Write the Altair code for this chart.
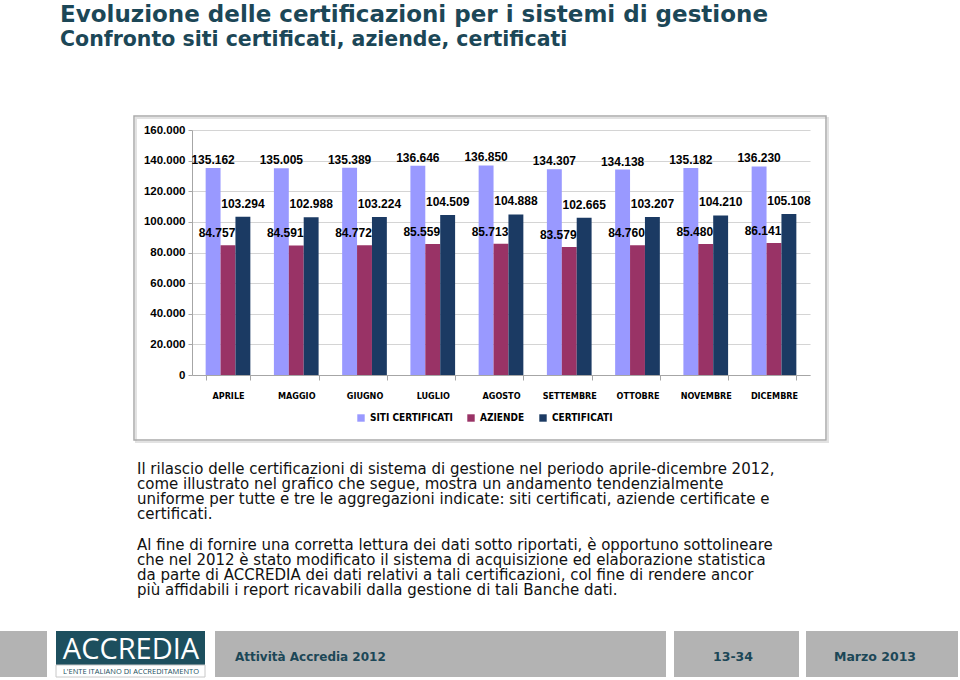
import altair as alt
import pandas as pd

# ---------------- data ----------------
months = ["APRILE", "MAGGIO", "GIUGNO", "LUGLIO", "AGOSTO",
          "SETTEMBRE", "OTTOBRE", "NOVEMBRE", "DICEMBRE"]
series_names = ["SITI CERTIFICATI", "AZIENDE", "CERTIFICATI"]
siti = [135162, 135005, 135389, 136646, 136850, 134307, 134138, 135182, 136230]
aziende = [84757, 84591, 84772, 85559, 85713, 83579, 84760, 85480, 86141]
certificati = [103294, 102988, 103224, 104509, 104888, 102665, 103207, 104210, 105108]
y_ticks = [0, 20000, 40000, 60000, 80000, 100000, 120000, 140000, 160000]

title_text = "Evoluzione delle certificazioni per i sistemi di gestione"
subtitle_text = "Confronto siti certificati, aziende, certificati"
para1 = [
    "Il rilascio delle certificazioni di sistema di gestione nel periodo aprile-dicembre 2012,",
    "come illustrato nel grafico che segue, mostra un andamento tendenzialmente",
    "uniforme per tutte e tre le aggregazioni indicate: siti certificati, aziende certificate e",
    "certificati.",
]
para2 = [
    "Al fine di fornire una corretta lettura dei dati sotto riportati, è opportuno sottolineare",
    "che nel 2012 è stato modificato il sistema di acquisizione ed elaborazione statistica",
    "da parte di ACCREDIA dei dati relativi a tali certificazioni, col fine di rendere ancor",
    "più affidabili i report ricavabili dalla gestione di tali Banche dati.",
]
footer_left = "Attività Accredia 2012"
footer_mid = "13-34"
footer_right = "Marzo 2013"
logo_main = "ACCREDIA"
logo_sub = "L'ENTE ITALIANO DI ACCREDITAMENTO"

rows = []
for i, m in enumerate(months):
    rows.append({"mese": m, "serie": series_names[0], "valore": siti[i]})
    rows.append({"mese": m, "serie": series_names[1], "valore": aziende[i]})
    rows.append({"mese": m, "serie": series_names[2], "valore": certificati[i]})
df = pd.DataFrame(rows)

colors = ["#9999FF", "#993366", "#1B3A63"]
TEAL = "#1C4757"
NARROW = "Liberation Sans Narrow, Arial Narrow, DejaVu Sans Condensed, sans-serif"
SANS = "Liberation Sans, Arial, sans-serif"
VERD = "DejaVu Sans, Verdana, sans-serif"

base = alt.Chart(df).transform_calculate(
    etichetta="replace(format(datum.valore, ','), ',', '.')"
)

x_enc = alt.X(
    "mese:N", sort=months, title=None,
    scale=alt.Scale(paddingInner=0.345, paddingOuter=0.2),
    axis=alt.Axis(labelAngle=0, labelFont=NARROW, labelFontWeight="bold",
                  labelFontSize=9, labelColor="#000000", labelPadding=11,
                  labelOverlap=False,
                  domainColor="#A6A6A6", tickColor="#A6A6A6", tickBand="extent",
                  tickSize=5, grid=False),
)
y_enc = alt.Y(
    "valore:Q", title=None,
    scale=alt.Scale(domain=[0, 160000], nice=False),
    axis=alt.Axis(values=y_ticks, labelOverlap=False,
                  labelExpr="replace(format(datum.value, ','), ',', '.')",
                  labelFont=SANS, labelFontWeight="bold", labelFontSize=11.5,
                  labelColor="#000000", labelPadding=3,
                  domainColor="#A6A6A6", tickColor="#A6A6A6", tickSize=4,
                  gridColor="#D4D4D4", gridWidth=1.2),
)
xoff = alt.XOffset("serie:N", sort=series_names,
                   scale=alt.Scale(paddingInner=0, paddingOuter=0))

bars = base.mark_bar().encode(
    x=x_enc, y=y_enc, xOffset=xoff,
    color=alt.Color(
        "serie:N", sort=series_names,
        scale=alt.Scale(domain=series_names, range=colors),
        legend=alt.Legend(
            title=None, orient="none", direction="horizontal",
            legendX=164, legendY=283, symbolType="square", symbolSize=55,
            symbolStrokeWidth=0, labelFont=NARROW, labelFontWeight="bold",
            labelFontSize=10, labelColor="#000000", columnPadding=13,
            labelOffset=4,
        ),
    ),
)


def lab(name, dy, dx=0):
    return base.transform_filter(alt.datum.serie == name).mark_text(
        font=SANS, fontWeight="bold", fontSize=12, color="#000000",
        baseline="middle", dy=dy, dx=dx,
    ).encode(x=x_enc, y=y_enc, xOffset=xoff, text="etichetta:N")


lab_siti = lab(series_names[0], -8)
lab_az = lab(series_names[1], -12, -11)
lab_cert = lab(series_names[2], -13)

one = pd.DataFrame({"k": [0]})


def rect(x1, x2, y1, y2, fill, stroke=None, sw=0):
    kw = dict(fill=fill, strokeWidth=sw)
    if stroke:
        kw["stroke"] = stroke
    return alt.Chart(one).mark_rect(**kw).encode(
        x=alt.value(x1), x2=alt.value(x2), y=alt.value(y1), y2=alt.value(y2))


def txt(value, x, y, size, color="#000000", weight="normal", font=VERD,
        align="left"):
    d = pd.DataFrame({"t": [value]})
    return alt.Chart(d).mark_text(
        font=font, fontSize=size, color=color, fontWeight=weight,
        align=align, baseline="alphabetic",
    ).encode(x=alt.value(x), y=alt.value(y), text="t:N")


# chart frame (no fill so gridlines stay visible)
frame_shadow = rect(-56, 636, -12, 312, "transparent", "#E2E2E2", 2)
frame = rect(-58, 634, -14, 310, "transparent", "#ABABAB", 1.5)

texts = [
    txt(title_text, -132, -108, 23, TEAL, "bold"),
    txt(subtitle_text, -132, -84, 20.5, TEAL, "bold"),
]
for i, line in enumerate(para1):
    texts.append(txt(line, -55, 344 + 15 * i, 15, "#111111"))
for i, line in enumerate(para2):
    texts.append(txt(line, -55, 420 + 15 * i, 15, "#111111"))

FOOT_GRAY = "#B3B3B3"
footer = [
    rect(-192, -145, 501, 547, FOOT_GRAY),
    rect(23, 474, 501, 547, FOOT_GRAY),
    rect(482, 607, 501, 547, FOOT_GRAY),
    rect(614, 766, 501, 547, FOOT_GRAY),
    rect(-136, 13, 501, 535, "#1D4F5E"),
    rect(-136, 13, 535, 547, "#FFFFFF", "#C8C8C8", 1),
    txt(logo_main, -61, 529, 29, "#FFFFFF", "normal", "Open Sans, Lato, sans-serif", "center"),
    txt(logo_sub, -61, 544, 7.5, "#1D4F5E", "normal", "Open Sans, sans-serif", "center"),
    txt(footer_left, 43, 531, 12, TEAL, "bold", VERD),
    txt(footer_mid, 541, 531, 12.5, TEAL, "bold", VERD, "center"),
    txt(footer_right, 683, 531, 12.5, TEAL, "bold", VERD, "center"),
]

chart = alt.layer(
    frame_shadow, frame, bars, lab_siti, lab_az, lab_cert, *texts, *footer
).properties(
    width=618, height=245,
    padding={"left": 192, "top": 130, "right": 150, "bottom": 305},
    autosize=alt.AutoSizeParams(type="none"),
    background="#FFFFFF",
).configure_view(stroke=None)

chart.save("out.html", embed_options={"renderer": "svg", "actions": False})
